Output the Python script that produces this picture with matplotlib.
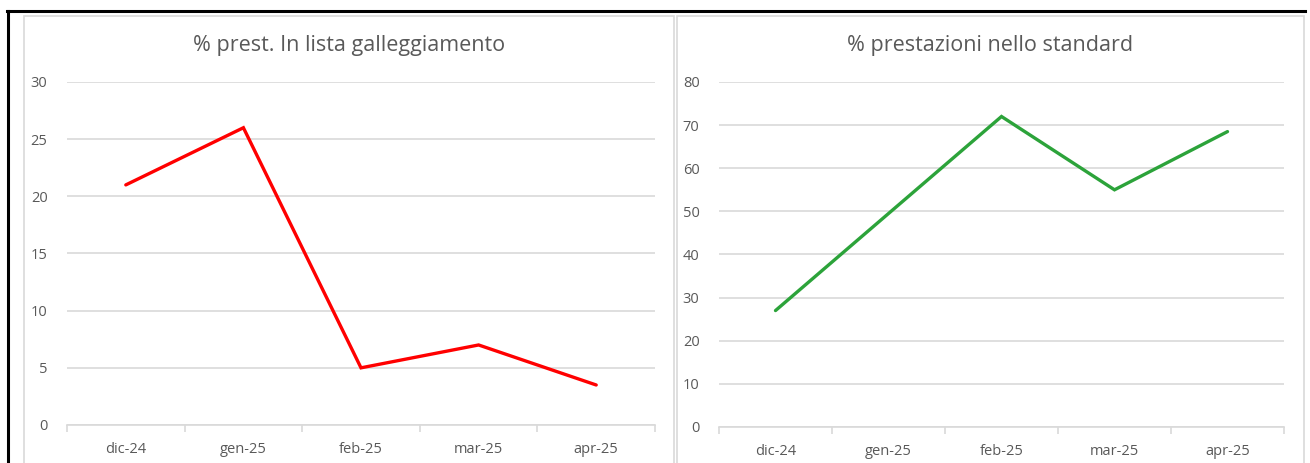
import matplotlib.pyplot as plt
from matplotlib.patches import Rectangle
from matplotlib.lines import Line2D

months = ["dic-24", "gen-25", "feb-25", "mar-25", "apr-25"]
galleggiamento = [21, 26, 5, 7, 3.5]
standard = [27, 49.5, 72, 55, 68.5]

plt.rcParams['font.family'] = ['Open Sans', 'DejaVu Sans']

W, H = 1310, 463
fig = plt.figure(figsize=(W / 100, H / 100), dpi=100)
fig.patch.set_facecolor("white")

txt = "#595959"
grid = "#d9d9d9"


def px_axes(x0, y0, x1, y1):
    return fig.add_axes([x0 / W, 1 - y1 / H, (x1 - x0) / W, (y1 - y0) / H])


# panel frames
for x0, x1 in [(24, 674), (677, 1304)]:
    fig.patches.append(Rectangle((x0 / W, -0.05), (x1 - x0) / W, 1.05 - 16 / H,
                                 transform=fig.transFigure, fill=False,
                                 edgecolor="#d9d9d9", lw=1.2, zorder=0))
# black outer frame (top and left)
fig.add_artist(Line2D([7 / W, 1305 / W], [1 - 11 / H, 1 - 11 / H], color="black", lw=2.2))
fig.add_artist(Line2D([7.5 / W, 7.5 / W], [0, 1 - 11 / H], color="black", lw=2.2))


def draw(ax, values, color, ymax, step, title, cx):
    x = list(range(len(months)))
    ax.plot(x, values, color=color, lw=2.4, solid_capstyle="round", solid_joinstyle="miter", zorder=3)
    ax.set_xlim(-0.5, len(months) - 0.5)
    ax.set_ylim(0, ymax)
    ax.set_yticks(range(0, ymax + 1, step))
    ax.yaxis.grid(True, color=grid, lw=1.2)
    ax.set_axisbelow(True)
    for s in ["top", "right", "left"]:
        ax.spines[s].set_visible(False)
    ax.spines["bottom"].set_color(grid)
    ax.spines["bottom"].set_linewidth(1.2)
    ax.set_xticks(x)
    ax.set_xticklabels(months)
    ax.set_xticks([i - 0.5 for i in range(len(months) + 1)], minor=True)
    ax.tick_params(axis="x", which="major", length=0, pad=12, labelsize=10.5, labelcolor=txt)
    ax.tick_params(axis="x", which="minor", length=5, width=1.2, color=grid, direction="out")
    ax.tick_params(axis="y", length=0, pad=14, labelsize=10.5, labelcolor=txt)
    fig.text(cx / W, 1 - 45 / H, title, ha="center", va="center", fontsize=15.5, color=txt)


ax1 = px_axes(67, 82, 655, 425)
draw(ax1, galleggiamento, "#ff0000", 30, 5, "% prest. In lista galleggiamento", 349)

ax2 = px_axes(719, 82, 1284, 427)
draw(ax2, standard, "#2ca33a", 80, 10, "% prestazioni nello standard", 990)

fig.savefig("out.png", dpi=100)
